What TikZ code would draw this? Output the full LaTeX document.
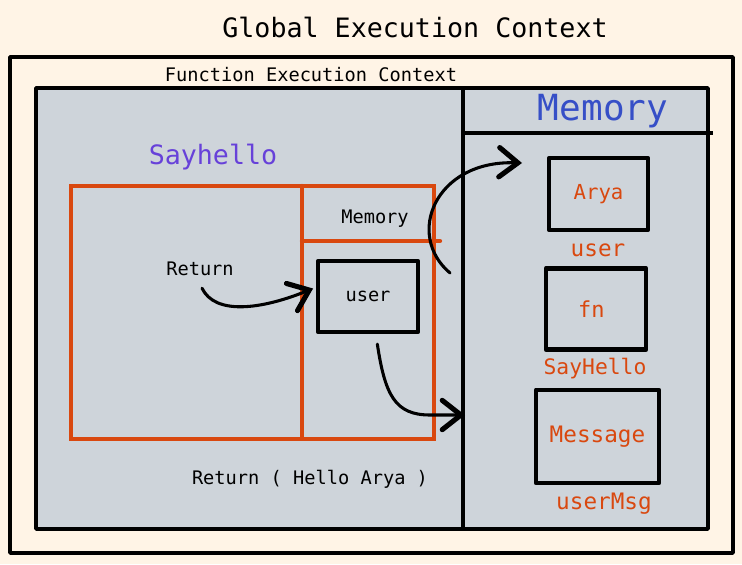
\documentclass[tikz,border=0pt]{standalone}
\usepackage{fontspec}
\setmonofont{DejaVu Sans Mono}
\usepackage{xcolor}
\usetikzlibrary{arrows.meta}
\definecolor{cream}{HTML}{FFF4E6}
\definecolor{slate}{HTML}{CED4DA}
\definecolor{rust}{HTML}{D9480F}
\definecolor{indigo}{HTML}{364FC7}
\definecolor{violet}{HTML}{6741D9}
\newcommand{\mono}[1]{\ttfamily\fontsize{#1}{#1}\selectfont}
\begin{document}
\begin{tikzpicture}[x=0.75pt,y=-0.75pt,
  frame/.style={draw=black, line width=2.8pt, line join=round},
  rustline/.style={draw=rust, line width=3.2pt, line cap=round},
  slot/.style={draw=black, line width=3.4pt, line join=round, inner sep=0pt, text=rust},
  plain/.style={inner sep=0pt, text=black},
  arr/.style={line width=2.3pt, line cap=round, -{Straight Barb[length=14pt,width=22pt,line width=3.8pt,line cap=round]}}]
% background and page size
\fill[cream] (0,0) rectangle (742,564);
\useasboundingbox (0,0) rectangle (742,564);
\node[plain, font=\mono{20}] (gec) at (415,27) {Global Execution Context};
\draw[frame] (10,57) rectangle (733,553);
\node[plain, font=\mono{14}] (fec) at (311,75) {Function Execution Context};
% function context
\draw[frame, fill=slate] (36,88) rectangle (708,529);
\draw[frame] (463,88) -- (463,528);
\draw[frame] (463,133) -- (713,133);
\node[plain, text=indigo, font=\mono{27}] (memtitle) at (603,111) {Memory};
\node[plain, text=violet, font=\mono{20}] (sayhello) at (213,157) {Sayhello};
% SayHello call frame
\draw[rustline] (71,186) rectangle (434,439);
\draw[rustline] (302,186) -- (302,437);
\draw[rustline] (302,241) -- (440,241);
\node[plain, font=\mono{14}] (framemem) at (375,219) {Memory};
\node[plain, font=\mono{14}] (ret) at (200,269) {Return};
\node[slot, text=black, minimum width=75pt, minimum height=53pt, font=\mono{14}] (userbox) at (368,296.5) {user};
\node[plain, font=\mono{14}] (retval) at (310,479) {Return ( Hello Arya )};
% memory slots
\node[slot, minimum width=74pt, minimum height=54pt, font=\mono{15.5}] (arya) at (598.5,194) {\raisebox{-2pt}{Arya}};
\node[plain, text=rust, font=\mono{17}] (usrname) at (598,250) {user};
\node[slot, minimum width=75pt, minimum height=61pt, font=\mono{16.5}] (fn) at (596,309) {\raisebox{-6pt}{fn\hspace{7pt}}};
\node[plain, text=rust, font=\mono{16}] (fnname) at (595,369) {SayHello};
\node[slot, minimum width=92pt, minimum height=70pt, font=\mono{17}] (msg) at (597.5,436.5) {\raisebox{2pt}{Message}};
\node[plain, text=rust, font=\mono{17}] (msgname) at (604,504) {userMsg};
% arrows
\coordinate (memout) at (450,273);
\coordinate (aryain) at (522,163);
\coordinate (msgin) at (465,415);
\draw[arr] ([xshift=1.5pt,yshift=-9pt]ret.south) .. controls (215,315) and (260,310) .. ([xshift=-2pt,yshift=6pt]userbox.west);
\draw[arr] ([xshift=7pt,yshift=-7.5pt]userbox.south) .. controls (385,395) and (395,415) .. (430,415) -- (msgin);
\draw[arr] (memout) .. controls (405,235) and (435,160) .. (aryain);
\end{tikzpicture}
\end{document}
